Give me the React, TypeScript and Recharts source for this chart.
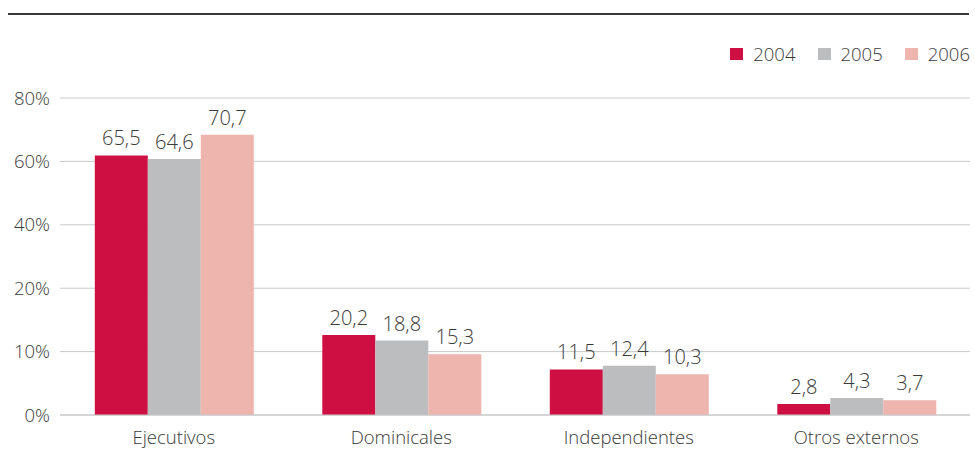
import { BarChart, Bar, XAxis, YAxis, CartesianGrid, LabelList } from "recharts"

const categories = ["Ejecutivos", "Dominicales", "Independientes", "Otros externos"]
const years = ["2004", "2005", "2006"]
const values2004 = [65.5, 20.2, 11.5, 2.8]
const values2005 = [64.6, 18.8, 12.4, 4.3]
const values2006 = [70.7, 15.3, 10.3, 3.7]

// the original axis is labelled unevenly but drawn evenly, with the bars on a plain 0-80 scale
const yTicks = [0, 16, 32, 48, 64, 80]
const yTickLabels = ["0%", "10%", "20%", "40%", "60%", "80%"]

const colors = ["#CE0F41", "#BCBDBF", "#EDB5AE"]
const textColor = "#3a3a3a"
const font = "'Open Sans', 'Noto Sans', sans-serif"

const data = categories.map((name, i) => ({
  name,
  y2004: values2004[i],
  y2005: values2005[i],
  y2006: values2006[i],
}))

const formatValue = (v: any) => String(v).replace(".", ",")

const App = () => {
  return (
    <div
      style={{
        position: "absolute",
        left: 0,
        top: 0,
        width: 975,
        height: 466,
        background: "#fff",
        fontFamily: font,
      }}
    >
      <div
        style={{
          position: "absolute",
          left: 8,
          top: 13,
          width: 961,
          height: 2,
          background: "#3a3a3a",
        }}
      />
      <div
        style={{
          position: "absolute",
          top: 41,
          right: 5,
          display: "flex",
          alignItems: "center",
          fontSize: 18.5,
          fontWeight: 300,
          color: textColor,
        }}
      >
        {years.map((y, i) => (
          <div
            key={y}
            style={{ display: "flex", alignItems: "center", marginLeft: i === 0 ? 0 : 22 }}
          >
            <span
              style={{
                display: "inline-block",
                width: 13,
                height: 12,
                background: colors[i],
                marginRight: 10,
              }}
            />
            <span>{y}</span>
          </div>
        ))}
      </div>
      <BarChart
        width={975}
        height={466}
        data={data}
        margin={{ top: 98, right: 5, bottom: 11, left: 0 }}
        barGap={0}
        barCategoryGap="15.3%"
      >
        <CartesianGrid vertical={false} stroke="#c8c8c8" strokeWidth={1} />
        <XAxis
          dataKey="name"
          axisLine={{ stroke: "#c8c8c8" }}
          tickLine={false}
          tickSize={0}
          tickMargin={16}
          height={40}
          tick={{ fill: textColor, fontSize: 18.5, fontFamily: font, fontWeight: 300 }}
        />
        <YAxis
          domain={[0, 80]}
          ticks={yTicks}
          width={60}
          axisLine={false}
          tickLine={false}
          tickSize={0}
          tickMargin={10}
          tickFormatter={(_v: number, i: number) => yTickLabels[i]}
          tick={{ fill: textColor, fontSize: 18.5, fontFamily: font, fontWeight: 300 }}
        />
        {["y2004", "y2005", "y2006"].map((key, i) => (
          <Bar key={key} dataKey={key} fill={colors[i]} isAnimationActive={false}>
            <LabelList
              dataKey={key}
              position="top"
              offset={10}
              formatter={formatValue}
              style={{ fill: textColor, fontSize: 20, fontFamily: font, fontWeight: 300 }}
            />
          </Bar>
        ))}
      </BarChart>
    </div>
  )
}

export default App
